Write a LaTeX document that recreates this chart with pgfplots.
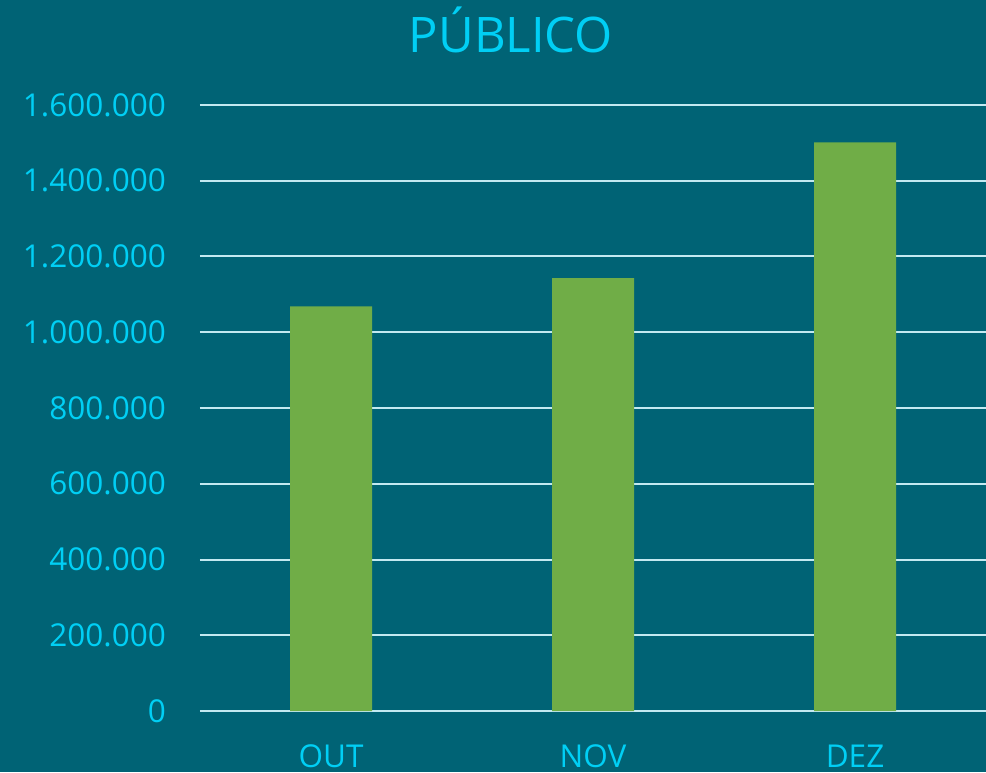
\documentclass[border=0pt]{standalone}
\usepackage{pgfplots}
\pgfplotsset{compat=1.18}
\usepackage{fontspec}
\setmainfont{Open Sans}
\definecolor{bg}{HTML}{006375}
\definecolor{txt}{HTML}{00CFF5}
\definecolor{barc}{HTML}{70AD47}
\definecolor{gridc}{HTML}{C3E9F1}
\begin{document}
\begin{tikzpicture}[x=1pt,y=1pt]
\fill[bg] (0,0) rectangle (986,772);
\path[use as bounding box] (0,0) rectangle (986,772);
\node[anchor=base, text=txt, font=\fontsize{49}{55}\selectfont, inner sep=0pt] at (511,719.3) {PÚBLICO};
\begin{axis}[
  at={(200pt,61pt)}, anchor=south west,
  scale only axis, width=786pt, height=606pt,
  xmin=-0.5, xmax=2.5, ymin=0, ymax=1600000,
  axis line style={draw=none},
  major tick length=0pt,
  tick style={draw=none},
  ytick={0,200000,400000,600000,800000,1000000,1200000,1400000,1600000},
  ymajorgrids,
  grid style={draw=gridc, line width=2pt},
  xtick={0,1,2}, xticklabels={OUT,NOV,DEZ},
  scaled y ticks=false,
  ticklabel style={text=txt, font=\fontsize{31.5}{36}\selectfont, inner sep=0pt},
  yticklabel style={anchor=east, xshift=-34pt, /pgf/number format/.cd, fixed, precision=0, 1000 sep={.}, assume math mode=true},
  xticklabel style={anchor=base, yshift=-56pt},
]
\addplot[ybar, bar width=82pt, fill=barc, draw=none] coordinates {(0,1068000) (1,1143000) (2,1501000)};
\end{axis}
\end{tikzpicture}
\end{document}
